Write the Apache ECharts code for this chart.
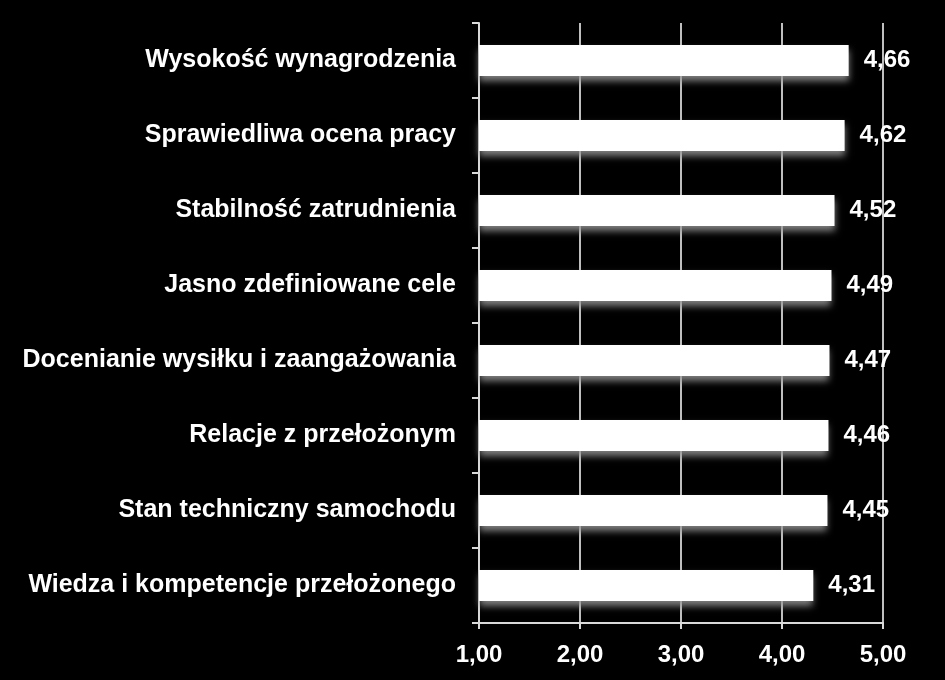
<!DOCTYPE html>
<html><head><meta charset="utf-8">
<script src="https://cdn.jsdelivr.net/npm/echarts@6/dist/echarts.min.js"></script>
<style>html,body{margin:0;padding:0;background:#000}#c{width:945px;height:680px}</style>
</head><body><div id="c"></div>
<script>
const categories = ["Wysokość wynagrodzenia","Sprawiedliwa ocena pracy","Stabilność zatrudnienia","Jasno zdefiniowane cele","Docenianie wysiłku i zaangażowania","Relacje z przełożonym","Stan techniczny samochodu","Wiedza i kompetencje przełożonego"];
const values = [4.66,4.62,4.52,4.49,4.47,4.46,4.45,4.31];
const xTicks = [1,2,3,4,5];
const fmt = v => v.toFixed(2).replace('.', ',');
const chart = echarts.init(document.getElementById('c'));
const font = 'Liberation Sans, Arial, sans-serif';
chart.setOption({
  backgroundColor:'#000',
  animation:false,
  grid:{left:479,right:62,top:23,bottom:57},
  xAxis:{type:'value',min:xTicks[0],max:xTicks[xTicks.length-1],interval:1,
    axisLine:{show:true,lineStyle:{color:'#d9d9d9',width:2}},
    axisTick:{show:true,length:6,lineStyle:{color:'#d9d9d9',width:2}},
    splitLine:{show:true,lineStyle:{color:'#bfbfbf',width:2}},
    axisLabel:{color:'#fff',fontFamily:font,fontWeight:'bold',fontSize:24,margin:20,formatter:v=>fmt(v)}},
  yAxis:{type:'category',inverse:true,data:categories,
    axisLine:{show:true,lineStyle:{color:'#d9d9d9',width:2}},
    axisTick:{show:true,length:7,lineStyle:{color:'#d9d9d9',width:2}},
    axisLabel:{color:'#fff',fontFamily:font,fontWeight:'bold',fontSize:25,margin:23,padding:[4,0,0,0]}},
  series:[{type:'bar',data:values,barWidth:31,
    itemStyle:{color:'#fff',shadowColor:'rgba(150,150,150,0.85)',shadowBlur:7,shadowOffsetY:5},
    label:{show:true,position:'right',distance:15,color:'#fff',fontFamily:font,fontWeight:'bold',fontSize:24,formatter:p=>fmt(p.value)}}]
});
</script></body></html>
